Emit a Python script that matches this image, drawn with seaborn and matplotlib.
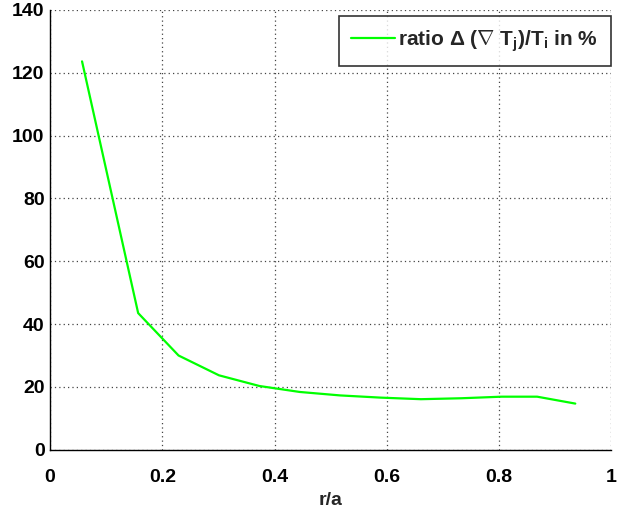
import matplotlib
matplotlib.use("Agg")
import matplotlib.pyplot as plt
import seaborn as sns
import pandas as pd

# radial profile of the gradient ratio
r_a = [0.057, 0.157, 0.229, 0.301, 0.373, 0.445, 0.517, 0.589, 0.661, 0.733, 0.805, 0.868, 0.936]
ratio = [123.6, 43.5, 30.0, 23.7, 20.3, 18.4, 17.3, 16.6, 16.1, 16.4, 16.9, 16.9, 14.7]

x_ticks = [0, 0.2, 0.4, 0.6, 0.8, 1]
x_labels = ["0", "0.2", "0.4", "0.6", "0.8", "1"]
y_ticks = [0, 20, 40, 60, 80, 100, 120, 140]

sns.set_style("white")
plt.rcParams['font.family'] = ['Liberation Sans', 'DejaVu Sans']
plt.rcParams['font.weight'] = 'bold'
plt.rcParams['mathtext.fontset'] = 'custom'
plt.rcParams['mathtext.rm'] = 'Liberation Sans:bold'
plt.rcParams['mathtext.it'] = 'Liberation Sans:bold'
plt.rcParams['mathtext.bf'] = 'Liberation Sans:bold'

df = pd.DataFrame({"r/a": r_a, "ratio": ratio})

fig = plt.figure(figsize=(6.18, 5.17), dpi=100)
ax = fig.add_axes([0.081, 0.130, 0.908, 0.851])

sns.lineplot(data=df, x="r/a", y="ratio", color="#00FF00", linewidth=1.6,
             label=r"ratio $\Delta$ ($\nabla$ T$_{\rm j}$)/T$_{\rm i}$ in %", ax=ax)

ax.set_xlim(0, 1)
ax.set_ylim(0, 140)
ax.set_xticks(x_ticks)
ax.set_xticklabels(x_labels)
ax.set_yticks(y_ticks)
ax.grid(True, linestyle=(0, (1, 2.5)), color="#444444", linewidth=0.9)
ax.tick_params(direction="in", length=5, width=1, labelsize=14, colors="black")
ax.tick_params(axis="x", pad=14)
ax.tick_params(axis="y", pad=4)
ax.set_xlabel("r/a", fontsize=14, fontweight="bold", labelpad=4)
ax.set_ylabel("")

for s in ["top", "right"]:
    ax.spines[s].set_visible(False)
for s in ["left", "bottom"]:
    ax.spines[s].set_color("black")
    ax.spines[s].set_linewidth(1.0)

leg = ax.legend(loc="upper right", fontsize=15, frameon=True, fancybox=False,
                handlelength=2.1, handletextpad=0.15, borderpad=0.6,
                borderaxespad=0, bbox_to_anchor=(0.999, 0.986))
leg.get_frame().set_edgecolor("black")
leg.get_frame().set_linewidth(1.2)

fig.savefig("out.png", dpi=100)
